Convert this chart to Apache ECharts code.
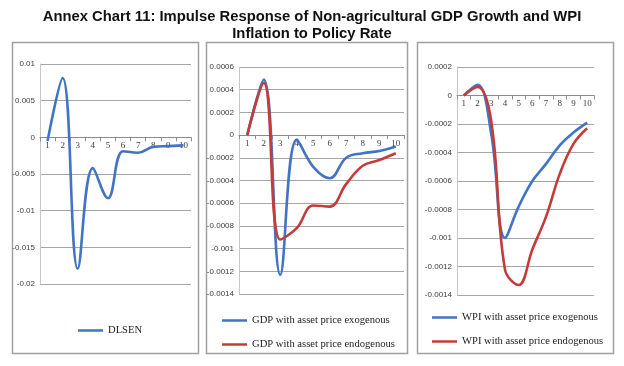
<!DOCTYPE html>
<html><head><meta charset="utf-8">
<script src="https://cdn.jsdelivr.net/npm/echarts@6/dist/echarts.min.js"></script>
<style>html,body{margin:0;padding:0;background:#fff}#c{width:624px;height:366px}</style>
</head><body><div id="c"></div>
<script>
var titleText = 'Annex Chart 11: Impulse Response of Non-agricultural GDP Growth and WPI\nInflation to Policy Rate';
var periods = ['1','2','3','4','5','6','7','8','9','10'];
var dlsen = [-0.0005, 0.0081, -0.0179, -0.0042, -0.0083, -0.0019, -0.0021, -0.0013, -0.0012, -0.0011];
var gdpExo = [0, 0.00049, -0.00123, -0.00004, -0.00028, -0.00038, -0.0002, -0.00016, -0.00014, -0.0001];
var gdpEndo = [0, 0.00046, -0.00092, -0.00082, -0.00062, -0.00063, -0.00043, -0.00027, -0.00022, -0.00016];
var wpiExo = [0, 0.000075, -0.00027, -0.001, -0.00078, -0.0006, -0.00048, -0.00035, -0.00026, -0.00019];
var wpiEndo = [0, 0.00006, -0.00018, -0.00122, -0.00133, -0.00108, -0.00085, -0.00055, -0.00034, -0.00023];
var names1 = ['DLSEN'];
var names2 = ['GDP with asset price exogenous', 'GDP with asset price endogenous'];
var names3 = ['WPI with asset price exogenous', 'WPI with asset price endogenous'];

var BLUE = '#4274c4', RED = '#c43c3a';
var grids = [
  {left:40, top:64, width:151, height:220},
  {left:239, top:67, width:165, height:227},
  {left:457, top:67, width:137, height:228}
];
var yRanges = [[-0.02,0.01,0.005],[-0.0014,0.0006,0.0002],[-0.0014,0.0002,0.0002]];
var chart = echarts.init(document.getElementById('c'));
function fmt(v){ return String(parseFloat(v.toFixed(6))); }
function xAx(i){
  var r = yRanges[i];
  var off = -grids[i].height * (0 - r[0]) / (r[1] - r[0]);
  return {type:'category', gridIndex:i, data:periods, boundaryGap:true, position:'bottom', offset:off,
    axisLine:{onZero:false, lineStyle:{color:'#8c8c8c', width:1}},
    axisTick:{show:true, length:4, inside:false, lineStyle:{color:'#8c8c8c'}},
    axisLabel:{color:'#404040', fontSize:9, fontFamily:'Liberation Serif', margin:4}};
}
function yAx(i){
  var r = yRanges[i];
  return {type:'value', gridIndex:i, min:r[0], max:r[1], interval:r[2],
    axisLine:{show:true, lineStyle:{color:'#c8c8c8'}}, axisTick:{show:false},
    splitLine:{lineStyle:{color:'#a6a6a6', width:1}},
    axisLabel:{color:'#404040', fontSize:8, fontFamily:'Liberation Sans', margin:5, formatter:fmt}};
}
function line(name, data, idx, color){
  return {name:name, type:'line', xAxisIndex:idx, yAxisIndex:idx, data:data, smooth:0.4,
    showSymbol:false, symbol:'none', lineStyle:{color:color, width:2.6}, itemStyle:{color:color}};
}
var legIcon = 'path://M0,0 L30,0 L30,3 L0,3 Z';
function leg(data, left, top){
  return {data:data, left:left, top:top, padding:0, orient:'vertical', itemGap:13, itemWidth:25, itemHeight:3,
    icon:legIcon, textStyle:{fontFamily:'Liberation Serif', fontSize:10.6, color:'#222'}};
}
chart.setOption({
  animation:false,
  title:{text:titleText, left:'center', top:3, itemGap:0,
    textStyle:{fontFamily:'Liberation Sans', fontWeight:'bold', fontSize:14.8, color:'#111', lineHeight:17}},
  graphic:[
    {type:'rect', shape:{x:12.5,y:42.5,width:186,height:311}, style:{fill:'none', stroke:'#a0a0a0', lineWidth:1.5}},
    {type:'rect', shape:{x:206.5,y:42.5,width:201,height:311}, style:{fill:'none', stroke:'#a0a0a0', lineWidth:1.5}},
    {type:'rect', shape:{x:417.5,y:42.5,width:196,height:311}, style:{fill:'none', stroke:'#a0a0a0', lineWidth:1.5}}
  ],
  grid:grids,
  xAxis:[xAx(0), xAx(1), xAx(2)],
  yAxis:[yAx(0), yAx(1), yAx(2)],
  legend:[
    leg(names1, 78, 325),
    leg(names2, 222, 315),
    leg(names3, 432, 312)
  ],
  series:[
    line(names1[0], dlsen, 0, BLUE),
    line(names2[0], gdpExo, 1, BLUE),
    line(names2[1], gdpEndo, 1, RED),
    line(names3[0], wpiExo, 2, BLUE),
    line(names3[1], wpiEndo, 2, RED)
  ]
});
</script></body></html>
